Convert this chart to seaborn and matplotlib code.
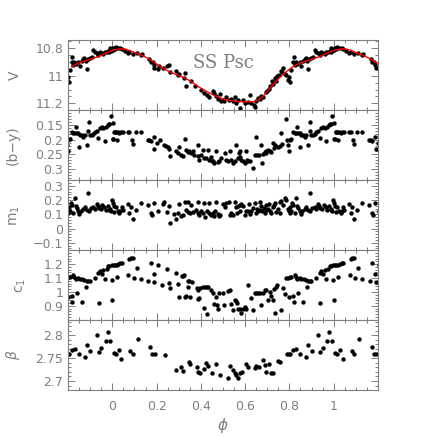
import numpy as np
import pandas as pd
import matplotlib
matplotlib.use("Agg")
import matplotlib.pyplot as plt
import seaborn as sns
from matplotlib.ticker import MultipleLocator, FixedLocator

# ---- data (one cycle, phase 0..1) ----
v_phase = [0.986, 0.994, 0.001, 0.006, 0.016, 0.024, 0.036, 0.042, 0.055, 0.069, 0.077,
           0.092, 0.110, 0.129, 0.134, 0.167, 0.175, 0.182, 0.187, 0.190, 0.205, 0.212,
           0.227, 0.245, 0.257, 0.262, 0.288, 0.295, 0.303, 0.322, 0.328, 0.333, 0.355,
           0.373, 0.400, 0.415, 0.430, 0.438, 0.453, 0.461, 0.468, 0.476, 0.485, 0.491,
           0.500, 0.506, 0.515, 0.527, 0.538, 0.545, 0.553, 0.560, 0.568, 0.578, 0.590,
           0.598, 0.613, 0.620, 0.628, 0.638, 0.643, 0.647, 0.658, 0.666, 0.673, 0.681,
           0.693, 0.699, 0.708, 0.714, 0.723, 0.726, 0.733, 0.741, 0.744, 0.753, 0.760,
           0.768, 0.771, 0.778, 0.786, 0.794, 0.798, 0.804, 0.809, 0.816, 0.819, 0.824,
           0.828, 0.834, 0.846, 0.854, 0.861, 0.869, 0.874, 0.879, 0.884, 0.888, 0.899,
           0.906, 0.914, 0.921, 0.929, 0.937, 0.944, 0.952, 0.959, 0.967, 0.974, 0.982,
           0.989, 0.997, 0.005, 0.012]
v_mag = [10.829, 10.819, 10.812, 10.795, 10.788, 10.795, 10.800, 10.805, 10.820, 10.836, 10.829,
         10.843, 10.835, 10.848, 10.843, 10.877, 10.896, 10.901, 10.920, 10.944, 10.949, 10.932,
         10.940, 10.925, 10.920, 10.973, 10.968, 10.993, 10.988, 11.017, 10.981, 11.077, 11.041,
         11.077, 11.100, 11.125, 11.142, 11.156, 11.113, 11.125, 11.149, 11.166, 11.132, 11.180,
         11.173, 11.185, 11.156, 11.173, 11.166, 11.185, 11.156, 11.197, 11.173, 11.233, 11.173,
         11.197, 11.190, 11.142, 11.197, 11.209, 11.225, 11.185, 11.161, 11.168, 11.149, 11.156,
         11.118, 11.108, 11.094, 11.077, 11.041, 11.060, 11.017, 11.036, 11.005, 10.997, 10.964,
         10.973, 10.944, 10.988, 10.993, 11.029, 11.012, 11.046, 10.956, 10.901, 10.860, 10.920,
         10.896, 10.916, 10.901, 10.932, 10.891, 10.877, 10.867, 10.891, 10.952, 10.877, 10.867,
         10.860, 10.812, 10.824, 10.836, 10.848, 10.824, 10.836, 10.843, 10.824, 10.829, 10.819,
         10.800, 10.812, 10.800, 10.805]

# fitted light curve (red line)
fit_phase = [0.00, 0.03, 0.06, 0.10, 0.13, 0.17, 0.205, 0.24, 0.28, 0.32, 0.355, 0.39,
             0.43, 0.47, 0.506, 0.55, 0.60, 0.635, 0.66, 0.68, 0.70, 0.726, 0.755,
             0.786, 0.815, 0.846, 0.89, 0.937, 0.97]
fit_mag = [10.815, 10.805, 10.805, 10.830, 10.848, 10.880, 10.920, 10.955, 10.986, 11.010,
           11.040, 11.080, 11.118, 11.150, 11.172, 11.185, 11.190, 11.190, 11.175, 11.150,
           11.115, 11.065, 11.015, 10.970, 10.935, 10.908, 10.885, 10.860, 10.835]

by_phase = [0.994, 0.001, 0.986, 0.009, 0.016, 0.024, 0.031, 0.039, 0.047, 0.001, 0.021,
            0.069, 0.077, 0.107, 0.129, 0.087, 0.092, 0.160, 0.167, 0.175, 0.187, 0.190,
            0.202, 0.217, 0.235, 0.242, 0.250, 0.257, 0.262, 0.288, 0.295, 0.303, 0.310,
            0.318, 0.328, 0.333, 0.340, 0.348, 0.355, 0.363, 0.370, 0.385, 0.388, 0.393,
            0.400, 0.408, 0.415, 0.423, 0.431, 0.438, 0.446, 0.449, 0.453, 0.461, 0.468,
            0.476, 0.483, 0.492, 0.507, 0.515, 0.522, 0.530, 0.538, 0.545, 0.553, 0.560,
            0.568, 0.572, 0.575, 0.578, 0.583, 0.590, 0.598, 0.605, 0.609, 0.613, 0.620,
            0.635, 0.643, 0.647, 0.653, 0.662, 0.673, 0.678, 0.681, 0.688, 0.693, 0.696,
            0.703, 0.711, 0.718, 0.726, 0.729, 0.733, 0.748, 0.756, 0.764, 0.768, 0.786,
            0.789, 0.794, 0.798, 0.801, 0.809, 0.816, 0.824, 0.831, 0.834, 0.839, 0.846,
            0.849, 0.854, 0.861, 0.869, 0.876, 0.884, 0.891, 0.894, 0.899, 0.906, 0.914,
            0.921, 0.929, 0.937, 0.944, 0.952, 0.959, 0.967, 0.970, 0.979, 0.985, 0.005,
            0.012]
by_color = [0.120, 0.143, 0.147, 0.172, 0.174, 0.172, 0.177, 0.174, 0.172, 0.198, 0.202,
            0.172, 0.174, 0.174, 0.175, 0.200, 0.215, 0.200, 0.202, 0.206, 0.189, 0.231,
            0.211, 0.202, 0.217, 0.223, 0.226, 0.231, 0.255, 0.237, 0.245, 0.226, 0.251,
            0.257, 0.197, 0.234, 0.242, 0.240, 0.245, 0.240, 0.251, 0.219, 0.257, 0.268,
            0.251, 0.234, 0.262, 0.262, 0.234, 0.268, 0.260, 0.272, 0.274, 0.280, 0.240,
            0.276, 0.272, 0.262, 0.245, 0.268, 0.274, 0.237, 0.268, 0.280, 0.272, 0.219,
            0.262, 0.245, 0.237, 0.260, 0.268, 0.274, 0.280, 0.237, 0.268, 0.274, 0.272,
            0.297, 0.251, 0.189, 0.253, 0.251, 0.217, 0.280, 0.249, 0.242, 0.237, 0.245,
            0.234, 0.240, 0.243, 0.211, 0.228, 0.219, 0.226, 0.223, 0.178, 0.215, 0.128,
            0.200, 0.219, 0.240, 0.200, 0.197, 0.174, 0.177, 0.177, 0.158, 0.177, 0.177,
            0.226, 0.183, 0.185, 0.189, 0.183, 0.217, 0.169, 0.138, 0.185, 0.183, 0.181,
            0.174, 0.169, 0.194, 0.160, 0.158, 0.160, 0.204, 0.155, 0.151, 0.147, 0.197,
            0.172]

m1_phase = [0.986, 0.994, 0.997, 0.001, 0.006, 0.009, 0.016, 0.024, 0.031, 0.036, 0.042,
            0.047, 0.069, 0.077, 0.084, 0.092, 0.107, 0.129, 0.160, 0.175, 0.178, 0.187,
            0.205, 0.227, 0.235, 0.247, 0.257, 0.262, 0.280, 0.288, 0.295, 0.303, 0.310,
            0.318, 0.328, 0.333, 0.340, 0.343, 0.352, 0.355, 0.363, 0.378, 0.385, 0.388,
            0.393, 0.400, 0.408, 0.415, 0.418, 0.428, 0.438, 0.438, 0.446, 0.453, 0.458,
            0.464, 0.468, 0.476, 0.483, 0.485, 0.500, 0.507, 0.515, 0.527, 0.530, 0.538,
            0.545, 0.553, 0.557, 0.563, 0.568, 0.575, 0.578, 0.583, 0.590, 0.598, 0.605,
            0.613, 0.617, 0.620, 0.628, 0.635, 0.643, 0.647, 0.653, 0.658, 0.666, 0.669,
            0.673, 0.678, 0.684, 0.688, 0.693, 0.696, 0.703, 0.708, 0.711, 0.718, 0.726,
            0.729, 0.733, 0.741, 0.748, 0.756, 0.759, 0.764, 0.771, 0.778, 0.786, 0.794,
            0.798, 0.801, 0.804, 0.809, 0.813, 0.816, 0.824, 0.831, 0.834, 0.839, 0.846,
            0.851, 0.858, 0.869, 0.876, 0.884, 0.891, 0.894, 0.903, 0.914, 0.921, 0.929,
            0.933, 0.940, 0.949, 0.955, 0.964, 0.970, 0.979, 0.990]
m1_index = [0.132, 0.120, 0.202, 0.178, 0.155, 0.115, 0.148, 0.120, 0.108, 0.125, 0.148,
            0.132, 0.171, 0.108, 0.148, 0.068, 0.132, 0.178, 0.167, 0.108, 0.097, 0.178,
            0.120, 0.171, 0.185, 0.115, 0.155, 0.038, 0.101, 0.068, 0.108, 0.171, 0.085,
            0.097, 0.190, 0.132, 0.185, 0.115, 0.108, 0.162, 0.115, 0.132, 0.185, 0.108,
            0.092, 0.120, 0.108, 0.178, 0.078, 0.120, 0.108, 0.178, 0.097, 0.108, 0.085,
            0.120, 0.185, 0.101, 0.085, 0.097, 0.171, 0.148, 0.178, 0.185, 0.097, 0.108,
            0.092, 0.190, 0.148, 0.108, 0.155, 0.167, 0.120, 0.171, 0.155, 0.092, 0.120,
            0.120, 0.171, 0.101, 0.120, 0.143, 0.178, 0.108, 0.139, 0.120, 0.190, 0.132,
            0.155, 0.120, 0.143, 0.108, 0.167, 0.132, 0.139, 0.171, 0.120, 0.108, 0.148,
            0.167, 0.178, 0.115, 0.139, 0.108, 0.185, 0.195, 0.167, 0.213, 0.202, 0.139,
            0.120, 0.108, 0.148, 0.125, 0.178, 0.162, 0.108, 0.213, 0.155, 0.143, 0.125,
            0.101, 0.120, 0.139, 0.148, 0.132, 0.249, 0.120, 0.143, 0.148, 0.139, 0.171,
            0.155, 0.143, 0.139, 0.162, 0.148, 0.132, 0.155, 0.139]

c1_phase = [0.986, 0.997, 0.006, 0.012, 0.021, 0.027, 0.036, 0.042, 0.997, 0.021, 0.000,
            0.072, 0.077, 0.084, 0.092, 0.096, 0.111, 0.129, 0.163, 0.175, 0.187, 0.190,
            0.205, 0.223, 0.247, 0.257, 0.262, 0.288, 0.295, 0.303, 0.313, 0.318, 0.322,
            0.328, 0.333, 0.340, 0.343, 0.348, 0.352, 0.358, 0.382, 0.385, 0.388, 0.393,
            0.397, 0.408, 0.415, 0.418, 0.428, 0.430, 0.434, 0.446, 0.453, 0.461, 0.468,
            0.473, 0.476, 0.483, 0.498, 0.503, 0.523, 0.530, 0.538, 0.545, 0.553, 0.560,
            0.563, 0.568, 0.575, 0.583, 0.590, 0.598, 0.605, 0.613, 0.628, 0.636, 0.643,
            0.651, 0.658, 0.666, 0.673, 0.681, 0.688, 0.696, 0.703, 0.711, 0.718, 0.726,
            0.729, 0.733, 0.738, 0.744, 0.764, 0.771, 0.779, 0.786, 0.794, 0.798, 0.801,
            0.809, 0.816, 0.819, 0.824, 0.828, 0.834, 0.839, 0.846, 0.854, 0.861, 0.864,
            0.873, 0.880, 0.884, 0.892, 0.899, 0.922, 0.937, 0.940, 0.944, 0.952, 0.959,
            0.967, 0.974, 0.982]
c1_index = [1.183, 1.190, 1.195, 1.190, 1.195, 1.200, 1.205, 1.207, 1.087, 1.104, 0.943,
            1.123, 1.238, 1.243, 1.243, 1.099, 1.171, 1.092, 1.082, 1.205, 1.128, 1.070,
            1.195, 1.051, 1.166, 1.063, 1.027, 1.135, 1.056, 0.967, 1.118, 1.111, 1.123,
            0.967, 0.974, 1.032, 1.082, 1.075, 0.967, 1.070, 1.027, 1.015, 0.950, 0.960,
            1.027, 1.032, 0.888, 1.032, 1.032, 0.840, 1.032, 1.015, 0.991, 0.912, 0.967,
            0.907, 0.878, 0.991, 0.991, 0.907, 1.008, 1.013, 0.912, 0.869, 0.941, 0.936,
            0.917, 0.881, 0.881, 0.850, 0.881, 0.893, 0.881, 1.049, 0.953, 0.869, 0.994,
            0.989, 0.994, 0.989, 0.905, 0.989, 1.013, 1.013, 0.941, 1.001, 0.970, 0.941,
            1.018, 0.850, 1.032, 1.049, 0.869, 1.025, 0.984, 1.097, 1.097, 0.965, 1.104,
            1.104, 0.970, 0.929, 1.121, 1.109, 1.090, 0.989, 1.097, 1.090, 0.929, 1.090,
            1.085, 1.037, 1.080, 1.080, 1.080, 1.097, 1.133, 0.922, 1.152, 1.128, 1.157,
            1.090, 1.162, 1.186]

beta_phase = [0.006, 0.015, 0.030, 0.041, 0.081, 0.093, 0.116, 0.172, 0.181, 0.191, 0.239,
              0.289, 0.312, 0.319, 0.346, 0.352, 0.383, 0.387, 0.398, 0.413, 0.425, 0.432,
              0.449, 0.467, 0.485, 0.521, 0.530, 0.545, 0.553, 0.560, 0.568, 0.575, 0.586,
              0.602, 0.613, 0.643, 0.651, 0.663, 0.681, 0.688, 0.696, 0.708, 0.718, 0.726,
              0.749, 0.756, 0.789, 0.798, 0.803, 0.818, 0.830, 0.849, 0.875, 0.886, 0.901,
              0.931, 0.940, 0.950, 0.970, 0.980, 0.991]
beta_index = [2.762, 2.760, 2.767, 2.749, 2.766, 2.760, 2.793, 2.775, 2.759, 2.759, 2.756,
              2.725, 2.730, 2.722, 2.742, 2.738, 2.731, 2.720, 2.718, 2.727, 2.740, 2.733,
              2.718, 2.737, 2.713, 2.706, 2.733, 2.724, 2.718, 2.713, 2.706, 2.717, 2.720,
              2.737, 2.731, 2.728, 2.733, 2.730, 2.746, 2.735, 2.720, 2.737, 2.717, 2.717,
              2.744, 2.742, 2.760, 2.759, 2.759, 2.767, 2.771, 2.760, 2.753, 2.778, 2.766,
              2.800, 2.764, 2.773, 2.787, 2.807, 2.787]

x_ticks = [0, 0.2, 0.4, 0.6, 0.8, 1]
v_ticks = [10.8, 11, 11.2]
by_ticks = [0.15, 0.2, 0.25, 0.3]
m1_ticks = [-0.1, 0, 0.1, 0.2, 0.3]
c1_ticks = [0.9, 1, 1.1, 1.2]
beta_ticks = [2.7, 2.75, 2.8]

GREY = "#7f7f7f"


def wrap(phase, values):
    """Repeat one cycle at phase-1 and phase+1, keep -0.2..1.2."""
    ph = np.asarray(phase)
    val = np.asarray(values)
    df = pd.DataFrame({"phase": np.concatenate([ph - 1, ph, ph + 1]),
                       "value": np.tile(val, 3)})
    return df[(df.phase >= -0.21) & (df.phase <= 1.21)]


def fmt_tick(v, pos=None):
    return "{:g}".format(round(v, 3)).replace("-", "\u2212")


def style_axis(ax, ticks, minor):
    ax.set_xlim(-0.2, 1.2)
    ax.xaxis.set_major_locator(FixedLocator(x_ticks))
    ax.xaxis.set_minor_locator(MultipleLocator(0.05))
    ax.yaxis.set_major_locator(FixedLocator(ticks))
    ax.yaxis.set_minor_locator(MultipleLocator(minor))
    ax.yaxis.set_major_formatter(plt.FuncFormatter(fmt_tick))
    ax.xaxis.set_major_formatter(plt.FuncFormatter(fmt_tick))
    ax.tick_params(which="both", direction="in", top=True, right=True, color=GREY,
                   labelcolor=GREY, labelsize=9, width=0.7)
    ax.tick_params(which="major", length=5)
    ax.tick_params(which="minor", length=2.5)
    ax.tick_params(axis="x", pad=7)
    for s in ax.spines.values():
        s.set_color(GREY)
        s.set_linewidth(0.8)
    ax.set_xlabel("")


sns.set_style("ticks")
plt.rcParams["font.family"] = ["DejaVu Sans"]
plt.rcParams["mathtext.fontset"] = "dejavusans"

fig, axes = plt.subplots(5, 1, figsize=(4.42, 4.36), dpi=100, sharex=True)
fig.subplots_adjust(left=0.154, right=0.855, top=0.908, bottom=0.105, hspace=0)

panels = [
    (v_phase, v_mag, "V", (11.25, 10.74), v_ticks, 0.05, -0.15),
    (by_phase, by_color, "(b\u2212y)", (0.338, 0.099), by_ticks, 0.01, -0.155),
    (m1_phase, m1_index, r"m$_1$", (-0.152, 0.34), m1_ticks, 0.02, -0.15),
    (c1_phase, c1_index, r"c$_1$", (0.797, 1.30), c1_ticks, 0.02, -0.13),
    (beta_phase, beta_index, r"$\beta$", (2.68, 2.833), beta_ticks, 0.01, -0.15),
]

for ax, (ph, vals, label, ylim, ticks, minor, lx) in zip(axes, panels):
    d = wrap(ph, vals)
    sns.scatterplot(data=d, x="phase", y="value", ax=ax, color="black", s=10,
                    linewidth=0, legend=False)
    ax.set_ylim(*ylim)
    style_axis(ax, ticks, minor)
    ax.set_ylabel(label, color=GREY, fontsize=10)
    ax.yaxis.set_label_coords(lx, 0.5)

# red fit curve on the V panel
fit = wrap(fit_phase + [1.0], fit_mag + [fit_mag[0]])
fit = fit.drop_duplicates("phase").sort_values("phase")
sns.lineplot(data=fit, x="phase", y="value", ax=axes[0], color="red", lw=1.0,
             estimator=None, sort=True)
axes[0].set_ylabel("V", color=GREY, fontsize=10)
axes[0].set_xlabel("")
axes[0].text(0.5, 0.67, "SS Psc", transform=axes[0].transAxes, ha="center",
             va="center", color=GREY, fontsize=13, family="DejaVu Serif")

axes[-1].set_xlabel(r"$\phi$", color=GREY, fontsize=11, labelpad=2)
for ax in axes[:-1]:
    ax.tick_params(labelbottom=False)

fig.savefig("out.png", dpi=100)
